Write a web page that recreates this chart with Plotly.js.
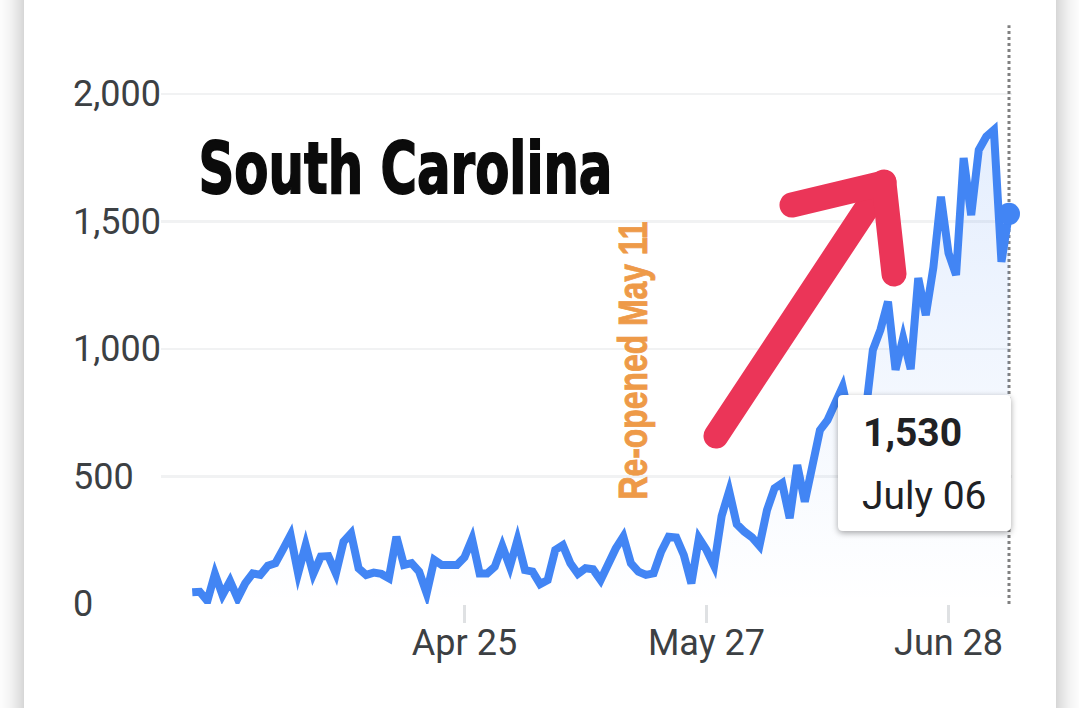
<!DOCTYPE html>
<html>
<head>
<meta charset="utf-8">
<script src="https://cdn.plot.ly/plotly-3.0.1.min.js"></script>
<style>
html, body { margin: 0; padding: 0; background: #fff; overflow: hidden; width: 1079px; height: 708px; }
#card { position: absolute; left: 24px; top: -60px; width: 1032px; height: 860px; background: #fff; box-shadow: 0 0 26px rgba(0,0,0,.32); }
#chart { position: absolute; left: 0; top: 0; width: 1079px; height: 708px; }
/* tooltip box and hand drawn arrow */
.shapelayer path[data-index="0"] { filter: drop-shadow(0 2px 3px rgba(0,0,0,.35)); }
.shapelayer path[data-index="1"], .shapelayer path[data-index="2"] { stroke-linecap: round; stroke-linejoin: round; }
.scatterlayer .js-line { stroke-linejoin: miter !important; stroke-miterlimit: 4.5 !important; }
</style>
</head>
<body>
<div id="card"></div>
<div id="chart"></div>
<script>
var dates = [
  "2020-03-20","2020-03-21","2020-03-22","2020-03-23","2020-03-24","2020-03-25","2020-03-26","2020-03-27","2020-03-28","2020-03-29","2020-03-30","2020-03-31",
  "2020-04-01","2020-04-02","2020-04-03","2020-04-04","2020-04-05","2020-04-06","2020-04-07","2020-04-08","2020-04-09","2020-04-10","2020-04-11","2020-04-12","2020-04-13","2020-04-14","2020-04-15","2020-04-16","2020-04-17","2020-04-18","2020-04-19","2020-04-20","2020-04-21","2020-04-22","2020-04-23","2020-04-24","2020-04-25","2020-04-26","2020-04-27","2020-04-28","2020-04-29","2020-04-30",
  "2020-05-01","2020-05-02","2020-05-03","2020-05-04","2020-05-05","2020-05-06","2020-05-07","2020-05-08","2020-05-09","2020-05-10","2020-05-11","2020-05-12","2020-05-13","2020-05-14","2020-05-15","2020-05-16","2020-05-17","2020-05-18","2020-05-19","2020-05-20","2020-05-21","2020-05-22","2020-05-23","2020-05-24","2020-05-25","2020-05-26","2020-05-27","2020-05-28","2020-05-29","2020-05-30","2020-05-31",
  "2020-06-01","2020-06-02","2020-06-03","2020-06-04","2020-06-05","2020-06-06","2020-06-07","2020-06-08","2020-06-09","2020-06-10","2020-06-11","2020-06-12","2020-06-13","2020-06-14","2020-06-15","2020-06-16","2020-06-17","2020-06-18","2020-06-19","2020-06-20","2020-06-21","2020-06-22","2020-06-23","2020-06-24","2020-06-25","2020-06-26","2020-06-27","2020-06-28","2020-06-29","2020-06-30",
  "2020-07-01","2020-07-02","2020-07-03","2020-07-04","2020-07-05","2020-07-06"
];
var cases = [
  46,48,12,118,35,90,22,81,120,114,150,160,214,270,120,231,118,186,188,120,
  244,277,140,114,123,118,101,264,153,160,127,42,173,153,153,153,183,255,120,120,
  146,227,146,251,133,127,78,94,212,231,160,118,140,136,94,160,218,264,160,127,
  114,120,205,264,261,192,81,258,212,150,345,443,313,284,262,228,368,454,474,337,
  545,401,525,682,721,787,852,720,700,740,996,1075,1186,918,1043,921,1278,1133,1320,1597,
  1376,1290,1749,1525,1780,1833,1859,1342,1530
];
var yTickVals = [0, 500, 1000, 1500, 2000];
var yTickLabels = ["0", "500", "1,000", "1,500", "2,000"];
var xTickVals = ["2020-04-25", "2020-05-27", "2020-06-28"];
var xTickLabels = ["Apr 25", "May 27", "Jun 28"];
var chartTitle = "South Carolina";
var noteText = "Re-opened May 11";
var tipValue = "1,530";
var tipDate = "July 06";

var lastDate = dates[dates.length - 1];
var lastCase = cases[cases.length - 1];
var blue = "#4285f4";

// page pixels to paper coordinates, plot area is 161..1012 x 25..604
function px(x) { return (x - 161) / 851; }
function py(y) { return (604 - y) / 579; }
function pt(x, y) { return px(x) + "," + py(y); }

var traces = [
  {
    x: [lastDate, lastDate], y: [0, 2270], mode: "lines", hoverinfo: "skip",
    line: { color: "#808080", width: 3, dash: "3px,3px" }
  },
  {
    x: dates, y: cases, mode: "lines", hoverinfo: "skip",
    line: { color: blue, width: 8 },
    fill: "tozeroy",
    fillgradient: {
      type: "vertical",
      colorscale: [[0, "rgba(66,133,244,0)"], [1, "rgba(66,133,244,0.14)"]]
    }
  },
  {
    x: [lastDate], y: [lastCase], mode: "markers", hoverinfo: "skip", cliponaxis: false,
    marker: { color: blue, size: 22 }
  }
];

var annotations = [];
yTickVals.forEach(function(v, i) {
  annotations.push({
    text: yTickLabels[i], xref: "paper", yref: "y", x: px(71.5), y: v,
    xanchor: "left", yanchor: "middle", showarrow: false, borderpad: 0,
    font: { family: "Roboto", size: 36, color: "#3c4043" }
  });
});
annotations.push({
  text: chartTitle, xref: "paper", yref: "paper", x: px(405), y: py(168),
  xanchor: "center", yanchor: "middle", showarrow: false,
  font: { family: "DejaVu Sans", weight: "bold", size: 72, color: "#0b0b0b" }
});
annotations.push({
  text: noteText, xref: "paper", yref: "paper", x: px(633), y: py(361), textangle: -90,
  xanchor: "center", yanchor: "middle", showarrow: false,
  font: { family: "Liberation Sans", weight: "bold", size: 40, color: "#ee9a48" }
});
annotations.push({
  text: "<b>" + tipValue + "</b>", xref: "paper", yref: "paper", x: px(862), y: py(433),
  xanchor: "left", yanchor: "middle", showarrow: false, borderpad: 0,
  font: { family: "Roboto", size: 39, color: "#202124" }
});
annotations.push({
  text: tipDate, xref: "paper", yref: "paper", x: px(861), y: py(496),
  xanchor: "left", yanchor: "middle", showarrow: false, borderpad: 0,
  font: { family: "Roboto", size: 39, color: "#202124" }
});

var shapes = [
  {
    type: "path", xref: "paper", yref: "paper", layer: "above",
    path: "M" + pt(843, 395) + " L" + pt(1006, 395) + " Q" + pt(1011, 395) + " " + pt(1011, 400) +
      " L" + pt(1011, 526) + " Q" + pt(1011, 531) + " " + pt(1006, 531) +
      " L" + pt(843, 531) + " Q" + pt(838, 531) + " " + pt(838, 526) +
      " L" + pt(838, 400) + " Q" + pt(838, 395) + " " + pt(843, 395) + " Z",
    fillcolor: "#ffffff", line: { width: 0 }
  },
  {
    type: "path", xref: "paper", yref: "paper", layer: "above",
    path: "M" + pt(716, 436) + " L" + pt(884, 182),
    line: { color: "#eb3558", width: 25 }
  },
  {
    type: "path", xref: "paper", yref: "paper", layer: "above",
    path: "M" + pt(792, 205) + " L" + pt(884, 183) + " L" + pt(894, 274),
    line: { color: "#eb3558", width: 25 }
  }
];

var layout = {
  width: 1079, height: 708,
  margin: { l: 161, r: 67, t: 25, b: 104, pad: 0 },
  paper_bgcolor: "rgba(0,0,0,0)",
  plot_bgcolor: "rgba(0,0,0,0)",
  showlegend: false,
  xaxis: {
    type: "date", range: ["2020-03-15 20:53", "2020-07-06 09:31"],
    tickmode: "array", tickvals: xTickVals, ticktext: xTickLabels, tickangle: 0,
    ticks: "outside", ticklen: 18, tickwidth: 2.5, tickcolor: "#dfe1e3",
    ticklabelstandoff: -11,
    tickfont: { family: "Roboto", size: 36, color: "#3c4043" },
    showgrid: false, showline: false, zeroline: false
  },
  yaxis: {
    range: [0, 2270.6], tickmode: "array", tickvals: yTickVals, showticklabels: false,
    gridcolor: "#f1f2f3", gridwidth: 2.5, zeroline: false, showline: false, ticks: ""
  },
  shapes: shapes,
  annotations: annotations
};

Plotly.newPlot("chart", traces, layout, { displayModeBar: false, staticPlot: true }).then(function() {
  // the reference uses a heavy condensed face, squeeze the two texts to their width
  var squeezed = {};
  squeezed[chartTitle] = { len: 414, stroke: 1.8 };
  squeezed[noteText] = { len: 278, stroke: 0.9 };
  document.querySelectorAll(".annotation-text").forEach(function(t) {
    var s = squeezed[t.textContent];
    if (s) {
      t.setAttribute("textLength", s.len);
      t.setAttribute("lengthAdjust", "spacingAndGlyphs");
      t.style.stroke = t.style.fill;
      t.style.strokeWidth = s.stroke + "px";
    }
  });
});
</script>
</body>
</html>
